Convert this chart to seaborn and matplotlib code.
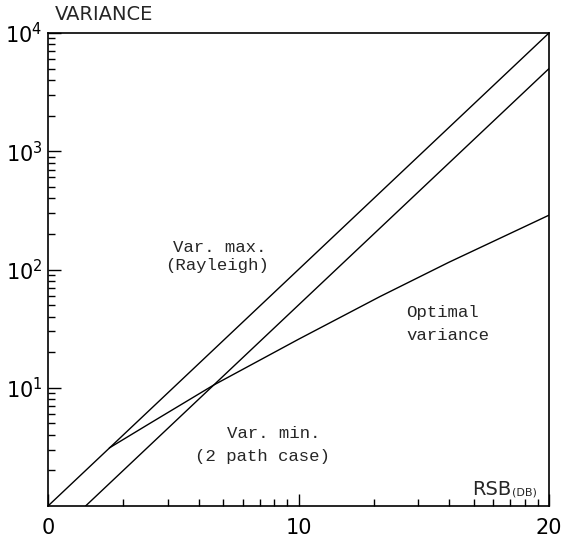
import numpy as np
import pandas as pd
import matplotlib
matplotlib.use("Agg")
import matplotlib.pyplot as plt
import seaborn as sns

# ---- data ----
snr_max = [0.0, 20.0]
var_max = [1.0, 10000.0]

snr_min = [1.5, 20.0]
var_min = [1.0, 5000.0]

snr_opt = [2.45, 4.0, 6.6, 10.0, 13.25, 16.0, 20.0]
var_opt = [3.1, 4.9, 10.5, 25.7, 59.0, 115.0, 288.0]

x_major = [0, 10, 20]
x_labels = ["0", "10", "20"]
y_major = [10, 100, 1000, 10000]
y_labels = ["$10^{1}$", "$10^{2}$", "$10^{3}$", "$10^{4}$"]

sns.set_theme(style="white")
plt.rcParams["font.family"] = ["DejaVu Sans"]
plt.rcParams["mathtext.fontset"] = "dejavusans"

fig = plt.figure(figsize=(5.64, 5.40), dpi=100)
ax = fig.add_axes([48 / 564, 34 / 540, 501 / 564, 473 / 540])

df_max = pd.DataFrame({"x": snr_max, "y": var_max})
df_min = pd.DataFrame({"x": snr_min, "y": var_min})
df_opt = pd.DataFrame({"x": snr_opt, "y": var_opt})
for d in (df_max, df_min, df_opt):
    sns.lineplot(data=d, x="x", y="y", ax=ax, color="black", linewidth=1.0,
                 estimator=None, sort=False)

ax.set_yscale("log")
ax.set_xlim(0, 20)
ax.set_ylim(1, 10000)
ax.set_xlabel("")
ax.set_ylabel("")

ax.set_xticks(x_major)
ax.set_xticklabels(x_labels, fontsize=15)
minor_x = [10 * np.log10(k) for k in range(2, 10)] + [10 + 10 * np.log10(k) for k in range(2, 10)]
ax.set_xticks(minor_x, minor=True)

ax.set_yticks(y_major)
ax.set_yticklabels(y_labels, fontsize=15)
ax.yaxis.set_minor_locator(matplotlib.ticker.LogLocator(base=10, subs=np.arange(2, 10)))
ax.yaxis.set_minor_formatter(matplotlib.ticker.NullFormatter())

ax.tick_params(axis="both", which="major", direction="in", length=9, width=1.0,
               color="black", labelcolor="black")
ax.tick_params(axis="both", which="minor", direction="in", length=5, width=1.0,
               color="black")
ax.tick_params(axis="x", which="major", pad=9)
ax.tick_params(axis="y", which="major", pad=4)
ax.tick_params(left=True, bottom=True, which="both")

for s in ax.spines.values():
    s.set_color("black")
    s.set_linewidth(1.2)

mono = "Liberation Mono"
ax.text(6.85, 152, "Var. max.", ha="center", va="center", family=mono, fontsize=12.5)
ax.text(6.75, 109, "(Rayleigh)", ha="center", va="center", family=mono, fontsize=12.5)
ax.text(9.0, 4.14, "Var. min.", ha="center", va="center", family=mono, fontsize=12.5)
ax.text(8.55, 2.6, "(2 path case)", ha="center", va="center", family=mono, fontsize=12.5)
ax.text(14.3, 42.9, "Optimal", ha="left", va="center", family=mono, fontsize=12.5)
ax.text(14.3, 27.9, "variance", ha="left", va="center", family=mono, fontsize=12.5)

ax.text(0.924, 0.035, "RSB", transform=ax.transAxes, ha="right", va="center", fontsize=14)
ax.text(0.926, 0.028, "(DB)", transform=ax.transAxes, ha="left", va="center", fontsize=8)

fig.text(55 / 564, 1 - 15 / 540, "VARIANCE", ha="left", va="center", fontsize=14)

fig.savefig("out.png", dpi=100)
